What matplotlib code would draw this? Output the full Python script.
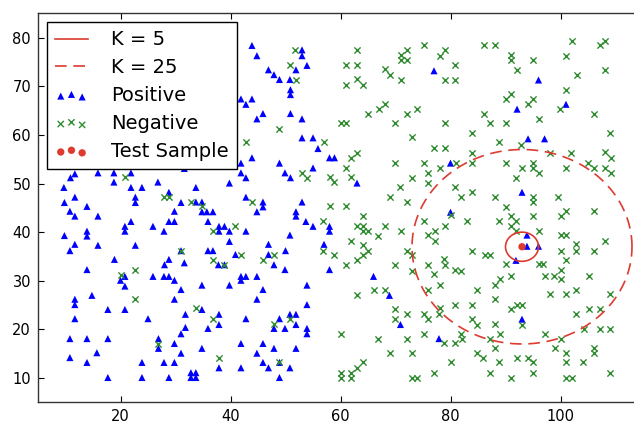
import numpy as np
import matplotlib
matplotlib.use("Agg")
import matplotlib.pyplot as plt

# feature coordinates (x, y) of the labelled points
pos_pts = np.array([
    (43.9, 78.4), (44.8, 76.3), (53.0, 77.5), (53.0, 76.3), (53.9, 74.3), (46.9, 73.4),
    (47.9, 72.4), (48.9, 71.4), (50.8, 71.4), (51.9, 73.4), (50.9, 69.3), (50.9, 68.3),
    (41.9, 67.4), (42.8, 66.3), (43.9, 67.4), (44.8, 63.3), (45.9, 64.4), (50.9, 64.4),
    (53.0, 63.3), (53.0, 59.4), (55.0, 59.4), (77.0, 73.2), (96.0, 71.3), (92.1, 65.3),
    (101.0, 66.3), (94.1, 59.2), (97.1, 59.2),
    (10.9, 51.2), (11.7, 52.0), (15.9, 52.2), (18.8, 52.2), (18.8, 50.3), (21.9, 52.2),
    (21.9, 49.2), (23.9, 49.2), (26.8, 50.3), (31.6, 53.1), (9.7, 49.2), (11.7, 47.2),
    (9.8, 46.1), (13.9, 45.3), (22.7, 47.2), (22.7, 46.1), (28.8, 48.2), (31.0, 46.1),
    (10.8, 44.3), (11.7, 43.3), (15.9, 43.3), (29.8, 44.3), (28.8, 42.2), (29.8, 42.2),
    (21.9, 42.2), (20.8, 41.2), (20.8, 40.2), (25.9, 41.2), (27.9, 40.2), (9.8, 39.3),
    (13.9, 40.2), (13.9, 39.2), (11.7, 37.5), (10.8, 36.2), (15.9, 37.3), (22.7, 37.3),
    (18.9, 34.4), (13.9, 32.3), (28.0, 33.3), (28.8, 34.4), (31.6, 33.7), (31.0, 36.2),
    (20.8, 30.9), (20.0, 30.1), (20.8, 28.9), (25.9, 30.9), (27.9, 30.9), (28.8, 30.9),
    (29.8, 30.1), (31.0, 28.2), (29.8, 26.2), (31.8, 23.1), (31.8, 20.4), (31.0, 19.1),
    (11.7, 26.2), (11.7, 25.1), (14.8, 27.0), (11.7, 22.2), (17.7, 24.1), (20.8, 24.1),
    (25.0, 22.2), (10.8, 18.1), (13.9, 18.1), (17.7, 18.1), (26.9, 18.1), (26.9, 16.1),
    (29.8, 17.1), (15.7, 15.2), (31.0, 15.1), (10.8, 14.2), (13.9, 13.2), (23.9, 13.2),
    (27.9, 13.2), (29.8, 13.2), (17.7, 10.1), (23.9, 10.1), (28.8, 10.1),
    (43.9, 55.3), (41.9, 54.2), (41.9, 52.2), (42.8, 51.2), (48.9, 54.2), (49.9, 52.2),
    (50.9, 51.2), (55.0, 53.2), (55.9, 57.2), (58.0, 55.3), (58.9, 55.3), (39.8, 50.1),
    (33.7, 49.2), (42.8, 47.2), (45.9, 46.2), (45.9, 45.2), (44.8, 44.2), (53.0, 46.2),
    (51.9, 44.2), (51.9, 43.3), (33.7, 46.2), (34.8, 46.2), (34.8, 44.2), (35.7, 44.2),
    (36.8, 44.2), (35.9, 42.2), (37.9, 41.2), (38.9, 41.2), (37.9, 40.2), (39.8, 40.2),
    (39.8, 38.1), (42.8, 40.2), (53.7, 42.2), (55.0, 41.2), (58.0, 41.2), (58.0, 40.2),
    (50.8, 39.4), (57.0, 37.5), (46.9, 37.5), (35.9, 36.2), (36.8, 36.2), (40.9, 35.4),
    (46.9, 35.4), (50.0, 36.2), (37.8, 33.3), (38.9, 33.3), (47.9, 33.3), (49.9, 32.3),
    (58.0, 32.3),
    (41.9, 30.9), (42.8, 30.9), (41.9, 30.1), (44.8, 30.9), (34.8, 29.1), (39.8, 29.1),
    (45.9, 28.2), (44.8, 26.2), (53.9, 29.1), (53.9, 25.1), (34.8, 24.1), (37.9, 23.1),
    (37.9, 21.0), (35.9, 20.2), (42.8, 22.2), (47.9, 20.2), (48.9, 22.2), (49.9, 20.2),
    (50.8, 23.1), (51.9, 23.1), (51.9, 21.0), (53.9, 20.2), (53.9, 19.1), (34.8, 16.1),
    (41.9, 17.1), (45.9, 17.1), (44.8, 15.1), (47.9, 16.1), (51.9, 16.1), (45.9, 13.2),
    (46.9, 12.1), (48.9, 13.2), (50.8, 12.1), (37.9, 12.1), (41.9, 12.1), (48.9, 10.1),
    (32.8, 11.1), (33.7, 11.1), (32.8, 10.1), (33.7, 10.1),
    (80.0, 54.2), (63.0, 50.1), (80.0, 44.1), (66.0, 30.9), (68.9, 27.0), (70.9, 21.0),
    (77.9, 18.1), (93.0, 48.2), (93.9, 39.4), (93.9, 37.1), (96.0, 37.1), (91.9, 34.2),
    (93.0, 22.1),
])

neg_pts = np.array([
    (51.8, 77.5), (50.9, 74.3), (51.9, 71.4), (48.9, 61.3), (42.8, 58.5), (57.0, 58.5),
    (63.0, 77.5), (61.0, 74.4), (63.0, 74.4), (61.0, 70.3), (63.0, 71.5), (64.1, 70.3),
    (68.0, 73.5), (69.0, 72.4), (71.0, 71.3), (71.0, 76.5), (71.0, 75.4), (72.1, 77.5),
    (72.1, 75.4), (75.1, 78.4), (78.0, 76.3), (79.0, 77.5), (80.9, 74.4), (79.0, 71.4),
    (80.9, 71.4), (86.1, 78.4), (68.0, 66.3), (67.0, 65.4), (65.0, 64.4), (72.1, 64.4),
    (73.9, 65.4), (60.0, 62.4), (61.0, 62.4), (69.9, 62.4), (79.0, 62.4), (86.1, 64.4),
    (73.0, 59.5), (83.9, 60.4),
    (88.0, 78.4), (91.0, 76.5), (91.0, 75.4), (95.0, 75.4), (92.1, 73.4), (101.0, 76.3),
    (102.1, 79.3), (107.1, 78.4), (108.1, 79.3), (108.1, 73.4), (103.0, 72.4), (101.0, 69.3),
    (90.1, 67.4), (91.0, 68.4), (94.1, 66.3), (95.0, 67.4), (99.9, 65.4), (106.0, 64.4),
    (87.1, 62.4), (90.0, 62.4), (96.1, 63.3), (109.0, 60.4), (88.9, 58.5), (92.8, 58.0),
    (20.8, 51.4), (27.9, 47.2), (28.8, 47.2), (22.7, 32.2), (20.0, 31.2), (31.0, 36.2),
    (22.7, 26.2), (26.9, 16.9),
    (53.0, 52.2), (53.9, 51.2), (58.0, 51.4), (58.9, 50.3), (32.8, 46.2), (34.8, 45.3),
    (43.9, 46.2), (58.0, 45.3), (40.9, 41.2), (36.8, 40.2), (56.9, 42.2), (56.9, 36.2),
    (58.9, 35.4), (41.9, 35.4), (47.9, 35.4), (45.9, 34.2), (36.8, 34.2), (38.9, 33.3),
    (33.7, 24.3), (36.8, 22.2), (47.9, 21.2), (50.8, 22.2), (37.9, 14.2), (48.9, 13.2),
    (61.9, 55.3), (63.0, 56.3), (61.0, 53.2), (61.9, 51.4), (69.9, 54.2), (77.0, 57.3),
    (79.0, 57.3), (75.1, 54.2), (75.9, 52.2), (78.0, 53.2), (81.0, 54.2), (83.9, 56.3),
    (83.9, 54.2), (73.0, 51.2), (75.9, 50.1), (70.9, 49.2), (80.9, 49.2), (69.0, 47.2),
    (72.1, 46.2), (81.9, 47.2), (83.9, 48.2), (61.0, 45.3), (64.1, 43.3), (63.0, 41.2),
    (64.1, 41.2), (64.1, 40.3), (65.0, 40.2), (68.0, 41.2), (66.9, 39.2), (71.0, 40.2),
    (75.1, 42.2), (79.0, 41.2), (83.0, 42.2), (75.9, 39.4), (77.1, 40.2), (77.1, 38.1),
    (61.9, 38.1), (64.1, 37.3), (65.0, 36.2), (64.1, 35.2), (63.0, 34.2), (72.1, 36.2),
    (73.0, 35.2), (78.9, 34.4), (79.0, 33.3), (83.9, 36.2), (86.2, 35.2), (61.0, 33.3),
    (69.9, 33.3), (73.0, 32.1), (75.9, 33.3), (80.9, 32.3), (81.9, 32.0), (80.0, 43.6),
    (63.0, 27.0), (66.0, 28.2), (68.0, 28.2), (69.9, 24.2), (69.9, 22.2), (72.1, 23.1),
    (75.1, 23.1), (75.9, 22.2), (77.9, 23.1), (78.0, 24.5), (75.9, 28.2), (78.0, 29.2),
    (77.0, 31.3), (80.9, 25.1), (83.9, 25.1), (84.9, 28.2), (83.9, 22.2), (84.9, 21.0),
    (81.9, 19.0), (82.0, 18.1), (80.9, 17.1), (78.9, 17.1), (75.1, 19.1), (72.1, 18.1),
    (66.9, 18.1), (60.0, 19.1), (69.0, 15.1), (73.0, 15.1), (84.9, 15.1), (85.9, 14.2),
    (80.0, 13.2), (77.0, 11.1), (64.1, 13.2), (63.0, 12.1), (61.9, 11.1), (61.9, 10.1),
    (60.0, 11.1), (60.0, 10.1), (73.0, 10.1), (73.9, 10.1),
    (98.0, 56.3), (101.9, 56.3), (108.1, 56.5), (109.1, 55.3), (90.1, 54.2), (95.0, 54.2),
    (95.0, 53.2), (93.0, 53.2), (96.0, 52.2), (101.0, 53.2), (105.0, 54.2), (106.1, 53.2),
    (108.1, 53.2), (109.1, 52.2), (91.9, 51.2), (88.0, 47.2), (95.0, 47.2), (95.0, 46.2),
    (99.6, 47.2), (90.0, 45.2), (91.0, 43.3), (91.9, 42.2), (88.9, 42.2), (95.0, 43.3),
    (100.0, 43.3), (101.0, 44.3), (106.1, 44.3), (91.0, 41.2), (91.9, 40.2), (96.0, 40.3),
    (100.0, 39.4), (101.0, 39.4), (108.1, 38.1), (102.8, 37.5), (102.8, 36.2), (100.0, 36.2),
    (106.1, 36.2), (101.0, 34.2), (87.1, 35.4), (90.1, 33.5), (96.0, 33.5), (96.9, 33.5),
    (100.0, 32.3),
    (88.0, 29.2), (89.0, 30.3), (91.0, 30.9), (88.0, 26.2), (91.0, 24.2), (92.1, 25.1),
    (93.0, 25.1), (88.0, 21.2), (89.0, 19.1), (93.0, 21.0), (87.1, 18.1), (88.0, 16.2),
    (88.9, 13.2), (87.1, 11.1), (91.0, 10.1), (92.1, 14.2), (94.1, 14.2), (95.0, 13.2),
    (95.0, 11.1), (97.2, 30.9), (98.9, 30.9), (100.0, 30.3), (105.1, 30.9), (98.0, 27.2),
    (101.0, 27.2), (102.9, 28.2), (109.0, 27.2), (102.9, 23.1), (105.1, 24.2), (107.1, 24.2),
    (97.2, 19.1), (100.0, 18.1), (104.2, 20.1), (107.1, 20.1), (109.0, 20.1), (99.0, 16.1),
    (101.0, 15.1), (106.0, 16.1), (106.0, 15.1), (101.0, 13.2), (104.1, 13.2), (101.0, 10.1),
    (102.1, 10.1), (109.0, 11.1),
])

test_pt = (93.0, 37.0)
# neighbourhood radius for k = 5 and k = 25
r_k5 = 3.0
r_k25 = 20.0

red = '#dd3b30'

fig = plt.figure(figsize=(6.34, 4.23), dpi=100)
fig.patch.set_facecolor('white')
ax = fig.add_axes([38 / 634, 20.7 / 423, 605 / 634, 388.9 / 423])

t = np.linspace(0, 2 * np.pi, 400)
ax.plot(test_pt[0] + r_k5 * np.cos(t), test_pt[1] + r_k5 * np.sin(t),
        color=red, lw=1.2, label='K = 5')
ax.plot(test_pt[0] + r_k25 * np.cos(t), test_pt[1] + r_k25 * np.sin(t),
        color=red, lw=1.2, dashes=(7, 4), label='K = 25')

ax.scatter(pos_pts[:, 0], pos_pts[:, 1], marker='^', s=26, color='#0000ff',
           edgecolors='none', label='Positive')
ax.scatter(neg_pts[:, 0], neg_pts[:, 1], marker='x', s=20, color='#2e8b2e',
           linewidths=1.0, label='Negative')
ax.scatter([test_pt[0]], [test_pt[1]], marker='o', s=28, color=red,
           edgecolors='none', label='Test Sample')

ax.set_xlim(5, 115)
ax.set_ylim(5, 85)
ax.set_xticks([20, 40, 60, 80, 100])
ax.set_yticks([10, 20, 30, 40, 50, 60, 70, 80])
ax.tick_params(direction='in', top=True, right=True, length=4, width=0.8,
               labelsize=10.5, pad=5)
for sp in ax.spines.values():
    sp.set_linewidth(1.0)
    sp.set_color('#333333')

leg = ax.legend(loc='upper left', scatterpoints=3, fontsize=14, fancybox=False,
                framealpha=1, edgecolor='black', handlelength=1.7,
                handletextpad=1.2, labelspacing=0.46, borderaxespad=0.45,
                borderpad=0.42)
leg.get_frame().set_linewidth(1.0)

fig.savefig('out.png', dpi=100, facecolor='white')
